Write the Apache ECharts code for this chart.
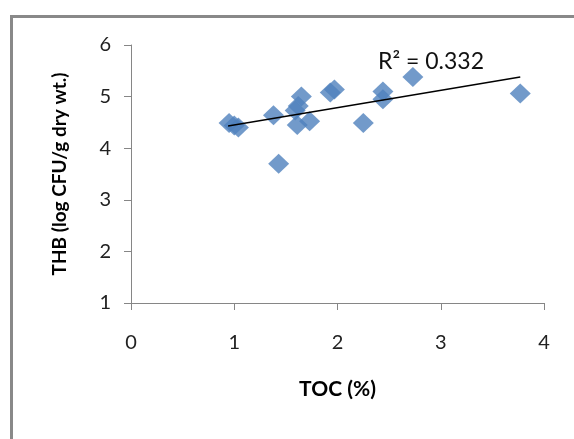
<!DOCTYPE html>
<html>
<head>
<meta charset="utf-8">
<script src="https://cdn.jsdelivr.net/npm/echarts@6/dist/echarts.min.js"></script>
<style>html,body{margin:0;padding:0;background:#fff}#c{width:574px;height:439px}</style>
</head>
<body>
<div id="c"></div>
<script>
const tocValues = [0.95, 1.00, 1.04, 1.38, 1.43, 1.59, 1.62, 1.65, 1.61, 1.73, 1.93, 1.97, 2.25, 2.44, 2.44, 2.73, 3.77];
const thbValues = [4.49, 4.44, 4.40, 4.64, 3.70, 4.73, 4.82, 5.00, 4.45, 4.52, 5.08, 5.14, 4.49, 5.10, 4.95, 5.38, 5.06];
const trendX = [0.94, 3.77];
const trendY = [4.43, 5.38];
const xTicks = [0, 4, 1];
const yTicks = [1, 6, 1];
const xTitle = 'TOC (%)';
const yTitle = 'THB (log CFU/g dry wt.)';
const r2Label = 'R\u00B2 = 0.332';

const font = 'Lato, "Open Sans", sans-serif';
const chart = echarts.init(document.getElementById('c'), null, {renderer: 'canvas'});
const axisCommon = {
  axisLine: {show: true, lineStyle: {color: '#868686', width: 1}},
  axisTick: {show: true, inside: false, length: 7, lineStyle: {color: '#868686'}},
  splitLine: {show: false},
  axisLabel: {color: '#222', fontSize: 20, fontFamily: font},
  nameTextStyle: {color: '#000', fontSize: 19, fontWeight: 'bold', fontFamily: font}
};
chart.setOption({
  animation: false,
  backgroundColor: '#fff',
  grid: {left: 131, right: 30, top: 45, bottom: 136},
  xAxis: Object.assign({}, axisCommon, {
    type: 'value', min: xTicks[0], max: xTicks[1], interval: xTicks[2],
    name: xTitle, nameLocation: 'middle', nameGap: 76,
    nameTextStyle: Object.assign({}, axisCommon.nameTextStyle, {fontSize: 21}),
    axisLabel: Object.assign({}, axisCommon.axisLabel, {margin: 30})
  }),
  yAxis: Object.assign({}, axisCommon, {
    type: 'value', min: yTicks[0], max: yTicks[1], interval: yTicks[2],
    name: yTitle, nameLocation: 'middle', nameGap: 62,
    axisLabel: Object.assign({}, axisCommon.axisLabel, {margin: 20})
  }),
  graphic: [
    {type: 'rect', left: 9, top: 14, shape: {x: 0, y: 0, width: 620, height: 500},
     style: {fill: 'none', stroke: '#898989', lineWidth: 3}, silent: true},
    {type: 'text', left: 378, top: 50, style: {text: r2Label, fontSize: 23, fontFamily: font, fill: '#111'}}
  ],
  series: [
    {
      type: 'scatter', symbol: 'diamond', symbolSize: [21, 20],
      itemStyle: {color: '#4F81BD'},
      data: tocValues.map((v, i) => [v, thbValues[i]]),
      z: 2
    },
    {
      type: 'line', showSymbol: false, symbol: 'none',
      lineStyle: {color: '#000', width: 1.3},
      data: trendX.map((v, i) => [v, trendY[i]]),
      z: 3
    }
  ]
});
</script>
</body>
</html>
